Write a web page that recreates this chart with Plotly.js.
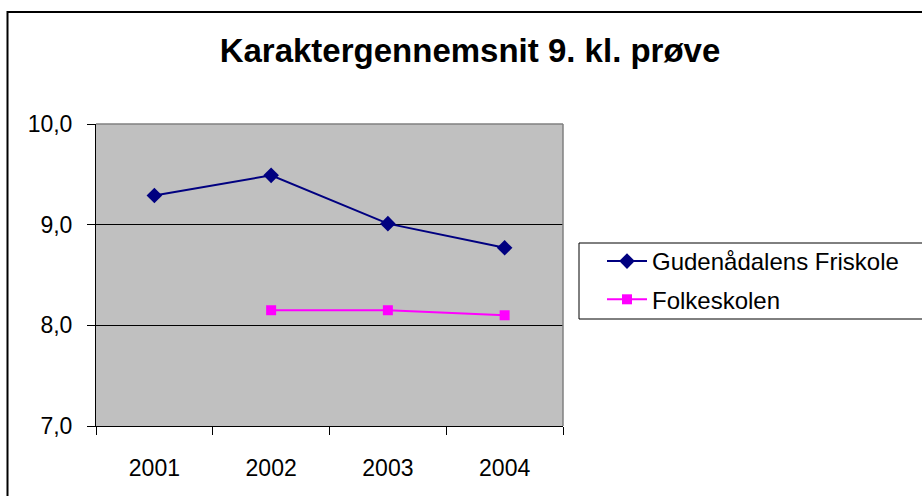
<!DOCTYPE html>
<html>
<head>
<meta charset="utf-8">
<script src="https://cdn.plot.ly/plotly-3.0.1.min.js"></script>
<style>
html,body{margin:0;padding:0;background:#fff;}
#chart{width:922px;height:496px;}
</style>
</head>
<body>
<div id="chart"></div>
<script>
var years = ['2001', '2002', '2003', '2004'];
var gudenaadalens = [9.29, 9.49, 9.01, 8.77];
var folkeskolen = [null, 8.15, 8.15, 8.10];
var seriesNames = ['Gudenådalens Friskole', 'Folkeskolen'];
var yTicks = [7, 8, 9, 10];
var yTickText = ['7,0', '8,0', '9,0', '10,0'];

// layout geometry (pixels)
var W = 922, H = 496;
var L = 96, R = 563, T = 124, B = 426;
function px(x){ return (x - L) / (R - L); }
function py(y){ return (B - y) / (B - T); }

var font = 'Liberation Sans, Arial, sans-serif';

var traces = [
  {
    x: years, y: gudenaadalens, name: seriesNames[0], type: 'scatter', mode: 'lines+markers',
    legendgroup: 'g1',
    line: {color: '#000080', width: 2},
    marker: {symbol: 'diamond', size: 12, color: '#000080'}
  },
  {
    x: years, y: folkeskolen, name: seriesNames[1], type: 'scatter', mode: 'lines+markers',
    legendgroup: 'g2',
    line: {color: '#FF00FF', width: 2},
    marker: {symbol: 'square', size: 10, color: '#FF00FF'}
  }
];

var layout = {
  width: W, height: H,
  margin: {l: L, r: W - R, t: T, b: H - B, pad: 0},
  paper_bgcolor: '#ffffff',
  plot_bgcolor: '#C0C0C0',
  font: {family: font, size: 22, color: '#000'},
  title: {
    text: '<b>Karaktergennemsnit 9. kl. prøve</b>',
    font: {family: font, size: 33, color: '#000'},
    x: 470 / W, xanchor: 'center', xref: 'container',
    y: 1 - 50 / H, yanchor: 'middle', yref: 'container'
  },
  xaxis: {
    type: 'category',
    range: [-0.5, 3.5],
    tickson: 'boundaries',
    ticks: 'outside', ticklen: 8, tickcolor: '#000', tickwidth: 1,
    showline: true, linecolor: '#000', linewidth: 1,
    showgrid: false, zeroline: false,
    ticklabelstandoff: 21,
    tickfont: {family: font, size: 23, color: '#000'}
  },
  yaxis: {
    range: [7, 10],
    tickvals: yTicks, ticktext: yTickText,
    ticks: 'outside', ticklen: 8, tickcolor: '#000', tickwidth: 1,
    showline: true, linecolor: '#000', linewidth: 1,
    showgrid: true, gridcolor: '#000', gridwidth: 1,
    zeroline: false,
    ticklabelstandoff: 10,
    tickfont: {family: font, size: 23, color: '#000'}
  },
  showlegend: true,
  legend: {
    x: px(602), y: py(239), xanchor: 'left', yanchor: 'top',
    bgcolor: 'rgba(0,0,0,0)', borderwidth: 0,
    font: {family: font, size: 24, color: '#000'},
    traceorder: 'grouped',
    tracegroupgap: 4, itemwidth: 40
  },
  shapes: [
    // plot area border (gray) top & right
    {type: 'line', xref: 'paper', yref: 'paper', x0: 0, x1: 1, y0: 1, y1: 1, line: {color: '#808080', width: 1.5}, layer: 'above'},
    {type: 'line', xref: 'paper', yref: 'paper', x0: 1, x1: 1, y0: 0, y1: 1, line: {color: '#808080', width: 1.5}, layer: 'above'},
    // legend box
    {type: 'rect', xref: 'paper', yref: 'paper', x0: px(579), x1: px(940), y0: py(243), y1: py(319), line: {color: '#000', width: 1}, fillcolor: 'rgba(0,0,0,0)', layer: 'above'},
    // outer chart border
    {type: 'rect', xref: 'paper', yref: 'paper', x0: px(7.5), x1: px(940), y0: py(12), y1: py(520), line: {color: '#000', width: 2}, fillcolor: 'rgba(0,0,0,0)', layer: 'above'}
  ]
};

Plotly.newPlot('chart', traces, layout, {displayModeBar: false, staticPlot: true});
</script>
</body>
</html>
